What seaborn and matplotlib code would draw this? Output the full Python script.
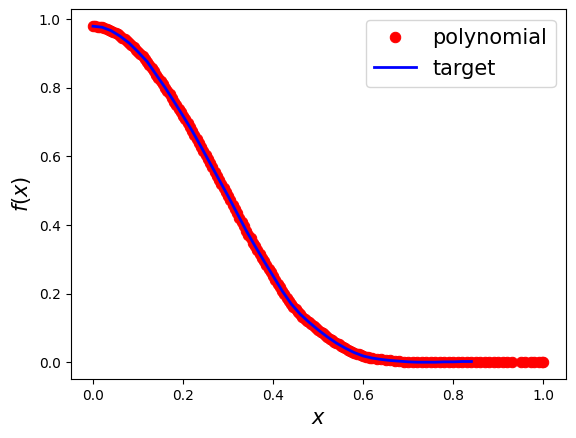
import matplotlib
matplotlib.use("Agg")
import matplotlib.pyplot as plt
import seaborn as sns

# polynomial fit, sampled points (dense on the steep part)
poly_x = [0.000, 0.005, 0.010, 0.015, 0.020, 0.025, 0.030, 0.035, 0.040, 0.045,
          0.050, 0.055, 0.060, 0.065, 0.070, 0.075, 0.080, 0.085, 0.090, 0.095,
          0.100, 0.105, 0.110, 0.115, 0.120, 0.125, 0.130, 0.135, 0.140, 0.145,
          0.150, 0.155, 0.160, 0.165, 0.170, 0.175, 0.180, 0.185, 0.190, 0.195,
          0.200, 0.205, 0.210, 0.215, 0.220, 0.225, 0.230, 0.235, 0.240, 0.245,
          0.250, 0.255, 0.260, 0.265, 0.270, 0.275, 0.280, 0.285, 0.290, 0.295,
          0.300, 0.305, 0.310, 0.315, 0.320, 0.325, 0.330, 0.335, 0.340, 0.345,
          0.350, 0.355, 0.360, 0.365, 0.370, 0.375, 0.380, 0.385, 0.390, 0.395,
          0.400, 0.405, 0.410, 0.415, 0.420, 0.425, 0.430, 0.435, 0.440, 0.445,
          0.450, 0.455, 0.460, 0.465, 0.470, 0.475, 0.480, 0.485, 0.490, 0.495,
          0.500, 0.505, 0.510, 0.515, 0.520, 0.525, 0.530, 0.535, 0.540, 0.545,
          0.550, 0.555, 0.560, 0.565, 0.570, 0.575, 0.580, 0.585, 0.590, 0.595,
          0.600, 0.605, 0.610, 0.615, 0.620,
          0.63, 0.64, 0.65, 0.66, 0.67, 0.68, 0.69, 0.70, 0.71, 0.72,
          0.73, 0.74, 0.75, 0.76, 0.77, 0.78, 0.79, 0.80, 0.81, 0.82,
          0.83, 0.84, 0.85, 0.86, 0.87, 0.88, 0.89, 0.90, 0.91, 0.918,
          0.930, 0.950, 0.958, 0.972, 0.980, 0.990, 0.996, 1.000]
poly_y = [0.980, 0.980, 0.979, 0.978, 0.977, 0.975, 0.973, 0.970, 0.967, 0.964,
          0.960, 0.956, 0.951, 0.947, 0.942, 0.937, 0.931, 0.925, 0.918, 0.912,
          0.905, 0.899, 0.892, 0.885, 0.877, 0.868, 0.859, 0.849, 0.839, 0.830,
          0.820, 0.811, 0.801, 0.791, 0.781, 0.771, 0.760, 0.750, 0.739, 0.729,
          0.718, 0.708, 0.697, 0.686, 0.675, 0.664, 0.652, 0.640, 0.628, 0.616,
          0.604, 0.592, 0.580, 0.568, 0.556, 0.544, 0.532, 0.520, 0.508, 0.496,
          0.484, 0.472, 0.459, 0.447, 0.434, 0.421, 0.408, 0.396, 0.384, 0.372,
          0.361, 0.349, 0.338, 0.327, 0.316, 0.305, 0.294, 0.283, 0.272, 0.262,
          0.251, 0.240, 0.229, 0.218, 0.208, 0.198, 0.188, 0.179, 0.170, 0.162,
          0.154, 0.147, 0.140, 0.133, 0.127, 0.121, 0.116, 0.110, 0.105, 0.099,
          0.094, 0.089, 0.084, 0.079, 0.074, 0.069, 0.064, 0.060, 0.056, 0.052,
          0.048, 0.044, 0.041, 0.037, 0.034, 0.031, 0.028, 0.025, 0.023, 0.020,
          0.018, 0.016, 0.015, 0.013, 0.012,
          0.010, 0.008, 0.006, 0.005, 0.004, 0.003, 0.002, 0.001, 0.001, 0.000,
          0.000, 0.000, 0.000, 0.000, 0.001, 0.001, 0.001, 0.001, 0.002, 0.002,
          0.002, 0.002, 0.002, 0.002, 0.001, 0.001, 0.001, 0.001, 0.001, 0.001,
          0.001, 0.001, 0.001, 0.001, 0.001, 0.001, 0.001, 0.001]

# target function
target_x = [0.00, 0.02, 0.04, 0.06, 0.08, 0.10, 0.12, 0.14, 0.16, 0.18,
            0.20, 0.22, 0.24, 0.26, 0.28, 0.30, 0.32, 0.34, 0.36, 0.38,
            0.40, 0.42, 0.44, 0.46, 0.48, 0.50, 0.52, 0.54, 0.56, 0.58,
            0.60, 0.62, 0.64, 0.66, 0.68, 0.70, 0.72, 0.74, 0.76, 0.78,
            0.80, 0.82, 0.84]
target_y = [0.980, 0.977, 0.967, 0.951, 0.931, 0.905, 0.877, 0.839, 0.801, 0.760,
            0.718, 0.675, 0.628, 0.580, 0.532, 0.484, 0.434, 0.384, 0.338, 0.294,
            0.251, 0.208, 0.170, 0.140, 0.116, 0.094, 0.074, 0.056, 0.041, 0.028,
            0.018, 0.012, 0.008, 0.005, 0.003, 0.001, 0.000, 0.000, 0.000, 0.001,
            0.001, 0.002, 0.002]

fig = plt.figure(figsize=(5.76, 4.38), dpi=100)
ax = fig.add_axes([70.5 / 576, 1 - 379 / 438, 495.5 / 576, 369.6 / 438])

sns.lineplot(x=poly_x, y=poly_y, ax=ax, color="red", marker="o", markersize=7.5,
             markeredgecolor="red", linestyle="none", estimator=None, sort=False,
             label="polynomial")
sns.lineplot(x=target_x, y=target_y, ax=ax, color="blue", linewidth=2,
             estimator=None, sort=False, label="target")

ax.set_xlabel("$x$", fontsize=15)
ax.set_ylabel("$f(x)$", fontsize=15)
ax.legend(loc="upper right", fontsize=15)

fig.savefig("out.png", dpi=100)
